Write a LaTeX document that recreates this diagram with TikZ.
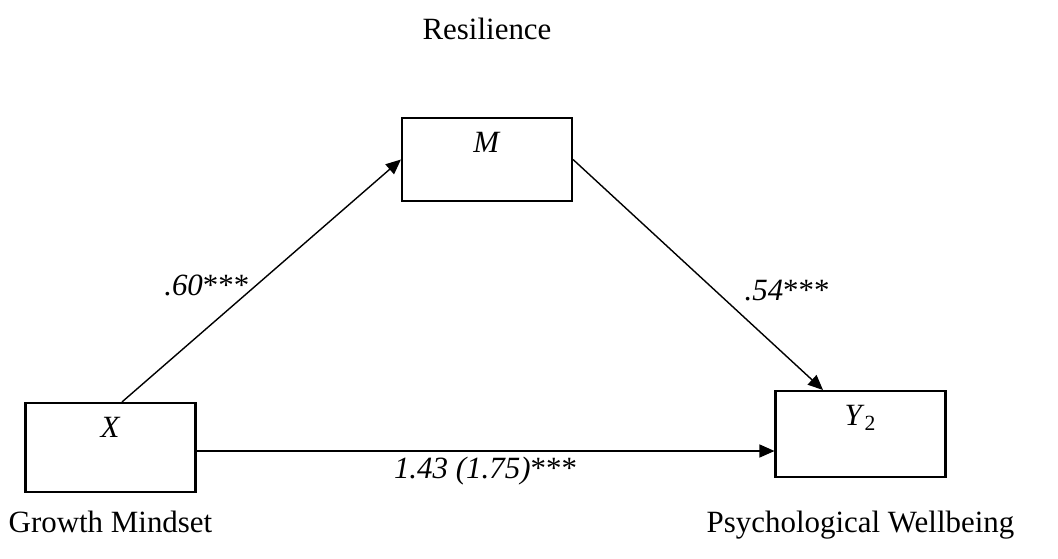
\documentclass[tikz,border=0pt]{standalone}
\usepackage{fontspec}
\setmainfont{Liberation Serif}
\usepackage{tikz}
\usetikzlibrary{positioning,arrows.meta}

\begin{document}
\begin{tikzpicture}[
  x=0.02cm, y=-0.02cm,
  font=\fontsize{17.6}{21}\selectfont,
  varbox/.style={draw, line width=1.2pt, minimum width=3.4cm, minimum height=1.74cm},
  letter/.style={anchor=center, yshift=-0.6cm, text height=0.66em, text depth=0pt},
  varname/.style={text height=0.7em, text depth=0.25em},
  flow/.style={-{Triangle[length=3mm,width=2.6mm]}, line width=0.8pt}
]
\useasboundingbox (0,0) rectangle (1058,558);
\node[varbox, minimum height=1.66cm, label={[letter]north:\textit{M}}] (m) at (487,159.5) {};
\node[varbox, minimum height=1.78cm, label={[letter]north:\textit{X}}] (x) at (110.5,447.5) {};
\node[varbox, minimum height=1.72cm, label={[letter]north:\textit{Y}\textsubscript{2}}] (y) at (860.5,434) {};
\node[varname, above=1.34cm of m] (mname) {Resilience};
\node[varname, below=0.42cm of x] (xname) {Growth Mindset};
\node[varname, below=0.72cm of y] (yname) {Psychological Wellbeing};
\draw[flow] ([xshift=0.23cm]x.north) -- (m.west) node[pos=0.48, left] (a) {\textit{.60}***};
\draw[flow] (m.east) -- ([xshift=-0.75cm]y.north) node[pos=0.57, right=0.45cm] (b) {\textit{.54}***};
\draw[flow] ([yshift=-0.07cm]x.east) -- ([yshift=-0.07cm]x.east -| y.west) node[midway, below, inner sep=0.1cm] (c) {\textit{1.43 (1.75)}***};
\end{tikzpicture}
\end{document}
